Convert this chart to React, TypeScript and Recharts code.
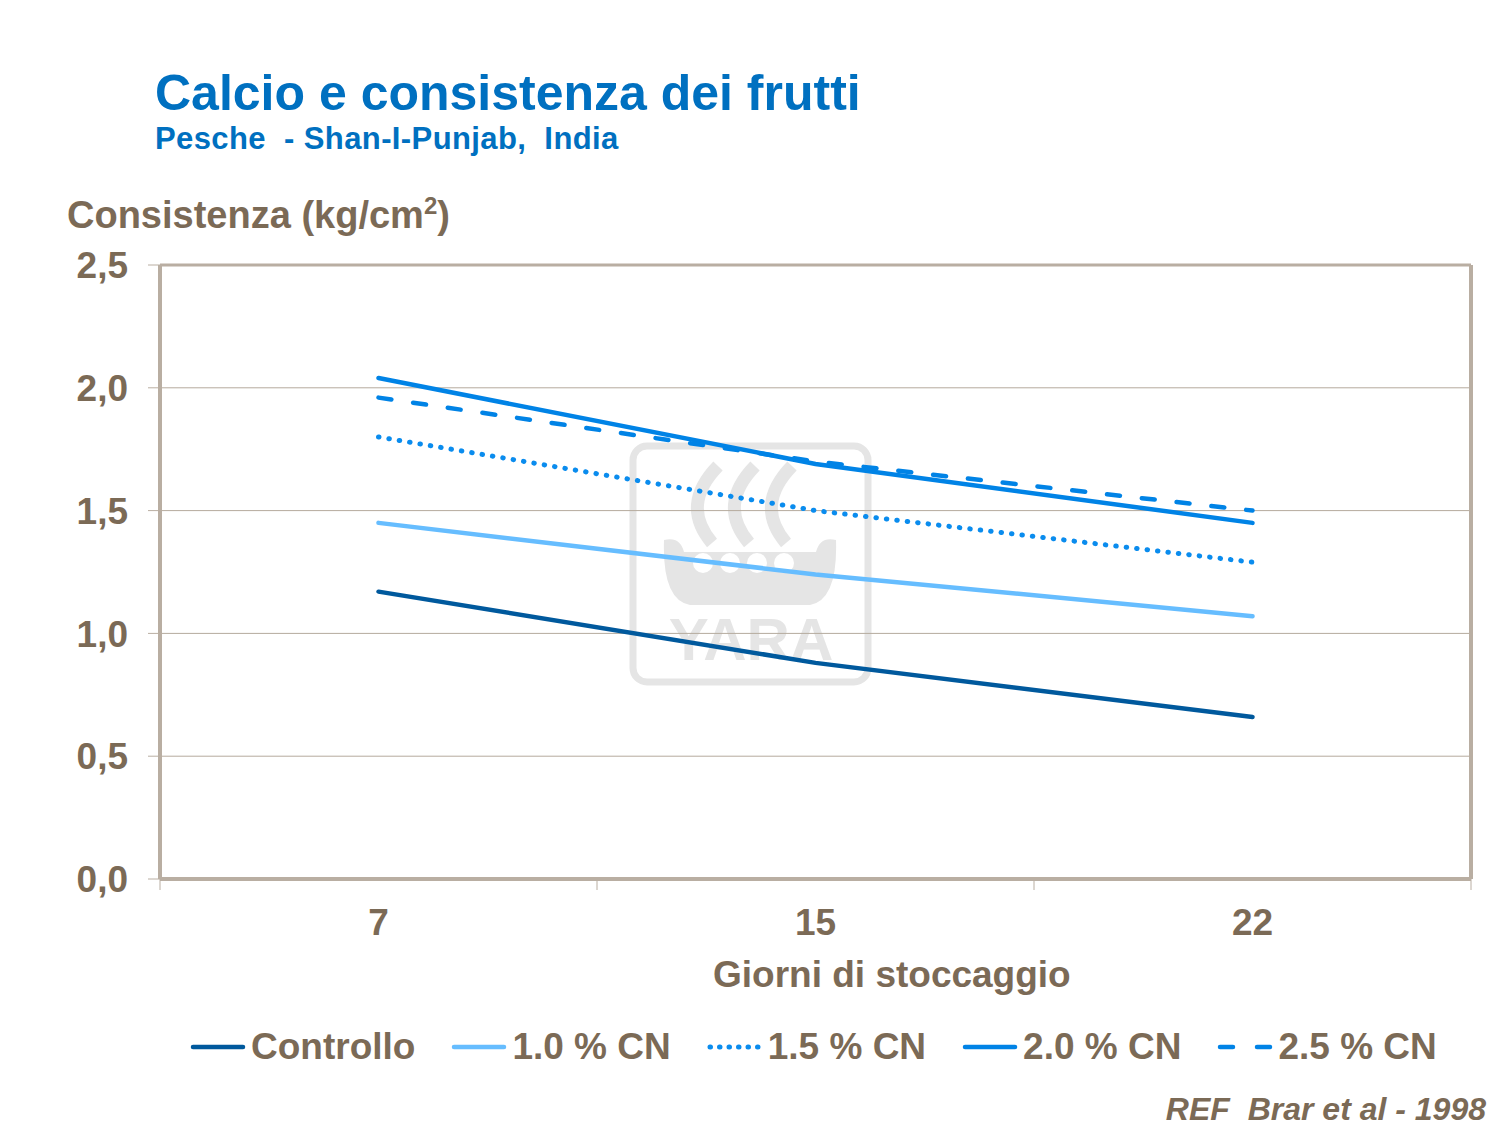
import React from "react";
import { LineChart, Line, XAxis, YAxis, CartesianGrid, ReferenceLine } from "recharts";

// giorni di stoccaggio
const days = ["7", "15", "22"];

// consistenza (kg/cm2) per trattamento
const controllo = [1.17, 0.88, 0.66];
const cn10 = [1.45, 1.24, 1.07];
const cn15 = [1.8, 1.5, 1.29];
const cn20 = [2.04, 1.69, 1.45];
const cn25 = [1.96, 1.7, 1.5];

const yTicks = [0, 0.5, 1, 1.5, 2, 2.5];
const seriesNames = ["Controllo", "1.0 % CN", "1.5 % CN", "2.0 % CN", "2.5 % CN"];
const seriesKeys = ["controllo", "cn10", "cn15", "cn20", "cn25"];

const BROWN = "#7b6a56";
const FRAME = "#b9aea2";
const GRID = "#b5aa9d";
const FONT = "'Liberation Sans', Arial, sans-serif";

const lineStyle: Record<string, { color: string; dash?: string }> = {
  controllo: { color: "#00599d" },
  cn10: { color: "#66bdff" },
  cn15: { color: "#0a8cee", dash: "0.5 10" },
  cn20: { color: "#0083e6" },
  cn25: { color: "#0083e6", dash: "13 22" },
};

const data = days.map((day, i) => ({
  idx: i,
  day,
  controllo: controllo[i],
  cn10: cn10[i],
  cn15: cn15[i],
  cn20: cn20[i],
  cn25: cn25[i],
}));

function DayTick(props: any) {
  const { x, y, payload } = props;
  const v = payload.value;
  if (Number.isInteger(v)) {
    return (
      <text x={x} y={y + 56} textAnchor="middle" fill={BROWN} fontSize={37} fontWeight="bold" fontFamily={FONT}>
        {days[v]}
      </text>
    );
  }
  return <line x1={x} x2={x} y1={y} y2={y + 11} stroke={FRAME} strokeWidth={1} />;
}

function Watermark() {
  const c = "#e5e5e5";
  return (
    <svg width={1501} height={1128} style={{ position: "absolute", left: 0, top: 0 }}>
      <rect x={633} y={446} width={235} height={236} rx={14} fill="none" stroke={c} strokeWidth={7} />
      {/* vele */}
      <path d="M 718 466 Q 680 505 712 543" fill="none" stroke={c} strokeWidth={13} />
      <path d="M 755 466 Q 717 505 749 543" fill="none" stroke={c} strokeWidth={13} />
      <path d="M 792 466 Q 754 505 786 543" fill="none" stroke={c} strokeWidth={13} />
      {/* scafo */}
      <path
        d="M 664 540 Q 680 536 684 552 L 816 552 Q 820 536 836 540 Q 838 600 810 605 L 690 605 Q 662 600 664 540 Z"
        fill={c}
      />
      <circle cx={703} cy={563} r={10} fill="#fff" />
      <circle cx={730} cy={563} r={10} fill="#fff" />
      <circle cx={757} cy={563} r={10} fill="#fff" />
      <circle cx={784} cy={563} r={10} fill="#fff" />
      <text x={751} y={660} textAnchor="middle" fill={c} fontSize={60} fontWeight="bold" fontFamily={FONT}>
        YARA
      </text>
    </svg>
  );
}

function LegendSample({ k }: { k: string }) {
  const s = lineStyle[k];
  return (
    <svg width={56} height={10} style={{ marginRight: 5 }}>
      <line
        x1={3}
        x2={53}
        y1={5}
        y2={5}
        stroke={s.color}
        strokeWidth={k === "cn15" ? 5 : 4.5}
        strokeLinecap="round"
        strokeDasharray={k === "cn25" ? "13 24" : k === "cn15" ? "0.5 9" : undefined}
      />
    </svg>
  );
}

export default function App() {
  return (
    <div style={{ position: "absolute", left: 0, top: 0, width: 1501, height: 1128, background: "#fff", fontFamily: FONT }}>
      <Watermark />

      <div style={{ position: "absolute", left: 155, top: 68, fontSize: 50, lineHeight: "50px", fontWeight: "bold", color: "#0070c0" }}>
        Calcio e consistenza dei frutti
      </div>
      <div
        style={{
          position: "absolute",
          left: 155,
          top: 123,
          fontSize: 31,
          lineHeight: "31px",
          fontWeight: "bold",
          color: "#0070c0",
          whiteSpace: "pre",
          letterSpacing: 0.4,
        }}
      >
        {"Pesche  - Shan-I-Punjab,  India"}
      </div>
      <div style={{ position: "absolute", left: 67, top: 196, fontSize: 38, lineHeight: "38px", fontWeight: "bold", color: BROWN }}>
        Consistenza (kg/cm<sup style={{ fontSize: 24, lineHeight: 0 }}>2</sup>)
      </div>

      <div style={{ position: "absolute", left: 0, top: 0, zIndex: 1 }}>
        <LineChart width={1501} height={1128} data={data} margin={{ top: 265, right: 30, left: 80, bottom: 189 }}>
          <CartesianGrid horizontal vertical={false} stroke={GRID} strokeWidth={1} />
          <XAxis
            dataKey="idx"
            type="number"
            domain={[-0.5, 2.5]}
            ticks={[-0.5, 0, 0.5, 1, 1.5, 2, 2.5]}
            tick={<DayTick />}
            tickLine={false}
            tickSize={0}
            tickMargin={0}
            height={60}
            axisLine={{ stroke: FRAME, strokeWidth: 4 }}
            interval={0}
          />
          <YAxis
            type="number"
            domain={[0, 2.5]}
            ticks={yTicks}
            width={80}
            tickSize={12}
            tickMargin={20}
            interval={0}
            tickFormatter={(v: number) => v.toFixed(1).replace(".", ",")}
            tick={{ fill: BROWN, fontSize: 37, fontWeight: "bold", fontFamily: FONT }}
            tickLine={{ stroke: FRAME, strokeWidth: 1 }}
            axisLine={{ stroke: FRAME, strokeWidth: 4 }}
          />
          <ReferenceLine y={2.5} stroke={FRAME} strokeWidth={3} ifOverflow="visible" />
          <ReferenceLine x={2.5} stroke={FRAME} strokeWidth={4} ifOverflow="visible" />
          {seriesKeys.map((k, i) => (
            <Line
              key={k}
              type="linear"
              dataKey={k}
              name={seriesNames[i]}
              stroke={lineStyle[k].color}
              strokeWidth={k === "cn15" ? 5 : 4.5}
              strokeDasharray={lineStyle[k].dash}
              strokeLinecap="round"
              dot={false}
              activeDot={false}
              isAnimationActive={false}
            />
          ))}
        </LineChart>
      </div>

      <div style={{ position: "absolute", left: 713, top: 956, fontSize: 37, lineHeight: "37px", fontWeight: "bold", color: BROWN }}>
        Giorni di stoccaggio
      </div>

      <div style={{ position: "absolute", left: 190, top: 1028, display: "flex", alignItems: "center", zIndex: 2 }}>
        {seriesKeys.map((k, i) => (
          <div key={k} style={{ display: "flex", alignItems: "center", marginRight: 36 }}>
            <LegendSample k={k} />
            <span style={{ fontSize: 37, lineHeight: "37px", fontWeight: "bold", color: BROWN }}>{seriesNames[i]}</span>
          </div>
        ))}
      </div>

      <div
        style={{
          position: "absolute",
          right: 15,
          top: 1093,
          fontSize: 32,
          lineHeight: "32px",
          fontWeight: "bold",
          fontStyle: "italic",
          color: BROWN,
          whiteSpace: "pre",
        }}
      >
        {"REF  Brar et al - 1998"}
      </div>
    </div>
  );
}
